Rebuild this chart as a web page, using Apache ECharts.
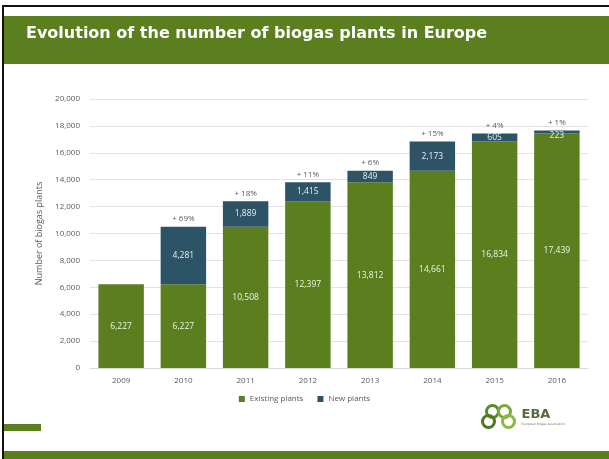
<!DOCTYPE html>
<html>
<head>
<meta charset="utf-8">
<script src="https://cdn.jsdelivr.net/npm/echarts@6/dist/echarts.min.js"></script>
<style>
html,body{margin:0;padding:0;background:#fff;}
#c{width:609px;height:459px;}
</style>
</head>
<body>
<div id="c"></div>
<script>
const years = ['2009','2010','2011','2012','2013','2014','2015','2016'];
const existingPlants = [6227, 6227, 10508, 12397, 13812, 14661, 16834, 17439];
const newPlants = [null, 4281, 1889, 1415, 849, 2173, 605, 223];
const growthLabels = ['', '+ 69%', '+ 18%', '+ 11%', '+ 6%', '+ 15%', '+ 4%', '+ 1%'];
const yTicks = [0, 2000, 4000, 6000, 8000, 10000, 12000, 14000, 16000, 18000, 20000];

const GREEN = '#5b7f1f';
const DARK = '#2d5366';
const fmt = v => v.toLocaleString('en-US');

const chart = echarts.init(document.getElementById('c'), null, {renderer: 'canvas'});
chart.setOption({
  animation: false,
  backgroundColor: '#fff',
  textStyle: {fontFamily: 'Open Sans'},
  grid: {left: 90, right: 21, top: 99, bottom: 91},
  legend: {
    data: ['Existing plants', 'New plants'],
    left: 'center', top: 390,
    itemWidth: 6, itemHeight: 6, itemGap: 14, icon: 'rect',
    textStyle: {fontSize: 8, color: '#595959', fontFamily: 'Open Sans'}
  },
  xAxis: {
    type: 'category', data: years,
    axisLine: {lineStyle: {color: '#d9d9d9'}},
    axisTick: {show: false},
    axisLabel: {color: '#595959', fontSize: 8, margin: 9}
  },
  yAxis: {
    type: 'value', min: yTicks[0], max: yTicks[yTicks.length - 1], interval: yTicks[1] - yTicks[0],
    name: 'Number of biogas plants', nameLocation: 'middle', nameGap: 43,
    nameTextStyle: {color: '#595959', fontSize: 9},
    axisLine: {show: false}, axisTick: {show: false},
    axisLabel: {color: '#595959', fontSize: 8, formatter: v => fmt(v), margin: 10},
    splitLine: {lineStyle: {color: '#e3e3e3'}}
  },
  series: [
    {
      name: 'Existing plants', type: 'bar', stack: 's', data: existingPlants,
      barCategoryGap: '27%',
      itemStyle: {color: GREEN},
      label: {show: true, position: 'inside', color: '#eef3e4', fontSize: 8.5, formatter: p => fmt(p.value)}
    },
    {
      name: 'New plants', type: 'bar', stack: 's',
      data: newPlants.map(v => (v != null && v < 400) ? {value: v, label: {position: 'insideTop', distance: 0, offset: [0, 1]}} : v),
      itemStyle: {color: DARK},
      label: {show: true, position: 'inside', color: '#e8eef0', fontSize: 8.5,
        formatter: p => p.value == null ? '' : fmt(p.value)}
    },
    {
      name: 'growth', type: 'bar', stack: 's', data: growthLabels.map(() => 0),
      itemStyle: {color: 'rgba(0,0,0,0)'},
      label: {show: true, position: 'top', distance: 4, color: '#595959', fontSize: 8,
        formatter: p => growthLabels[p.dataIndex]}
    }
  ],
  graphic: [
    {type: 'rect', shape: {x: 2, y: 5, width: 607, height: 2}, style: {fill: '#111'}},
    {type: 'rect', shape: {x: 2, y: 5, width: 2, height: 454}, style: {fill: '#111'}},
    {type: 'rect', shape: {x: 4, y: 16, width: 605, height: 48}, style: {fill: GREEN}},
    {type: 'text', left: 26, top: 26,
      style: {text: 'Evolution of the number of biogas plants in Europe', fill: '#fff',
        font: 'bold 16px "DejaVu Sans"'}},
    {type: 'rect', shape: {x: 4, y: 424, width: 37, height: 7}, style: {fill: GREEN}},
    {type: 'rect', shape: {x: 4, y: 451, width: 605, height: 8}, style: {fill: GREEN}},
    {type: 'group', left: 480, top: 403, children: [
      {type: 'circle', shape: {cx: 12, cy: 8, r: 6}, style: {fill: 'none', stroke: '#5b8a2a', lineWidth: 3}},
      {type: 'circle', shape: {cx: 24, cy: 8, r: 6}, style: {fill: 'none', stroke: '#7aa83a', lineWidth: 3}},
      {type: 'circle', shape: {cx: 8, cy: 18, r: 6}, style: {fill: 'none', stroke: '#4e7a22', lineWidth: 3}},
      {type: 'circle', shape: {cx: 28, cy: 18, r: 6}, style: {fill: 'none', stroke: '#8ab848', lineWidth: 3}},
      {type: 'text', x: 41, y: 5, style: {text: 'EBA', fill: '#556b3a', font: 'bold 13px "DejaVu Sans"'}},
      {type: 'text', x: 41, y: 19, style: {text: 'European Biogas Association', fill: '#6b7a5a', font: '3px "DejaVu Sans"'}}
    ]}
  ]
});
</script>
</body>
</html>
